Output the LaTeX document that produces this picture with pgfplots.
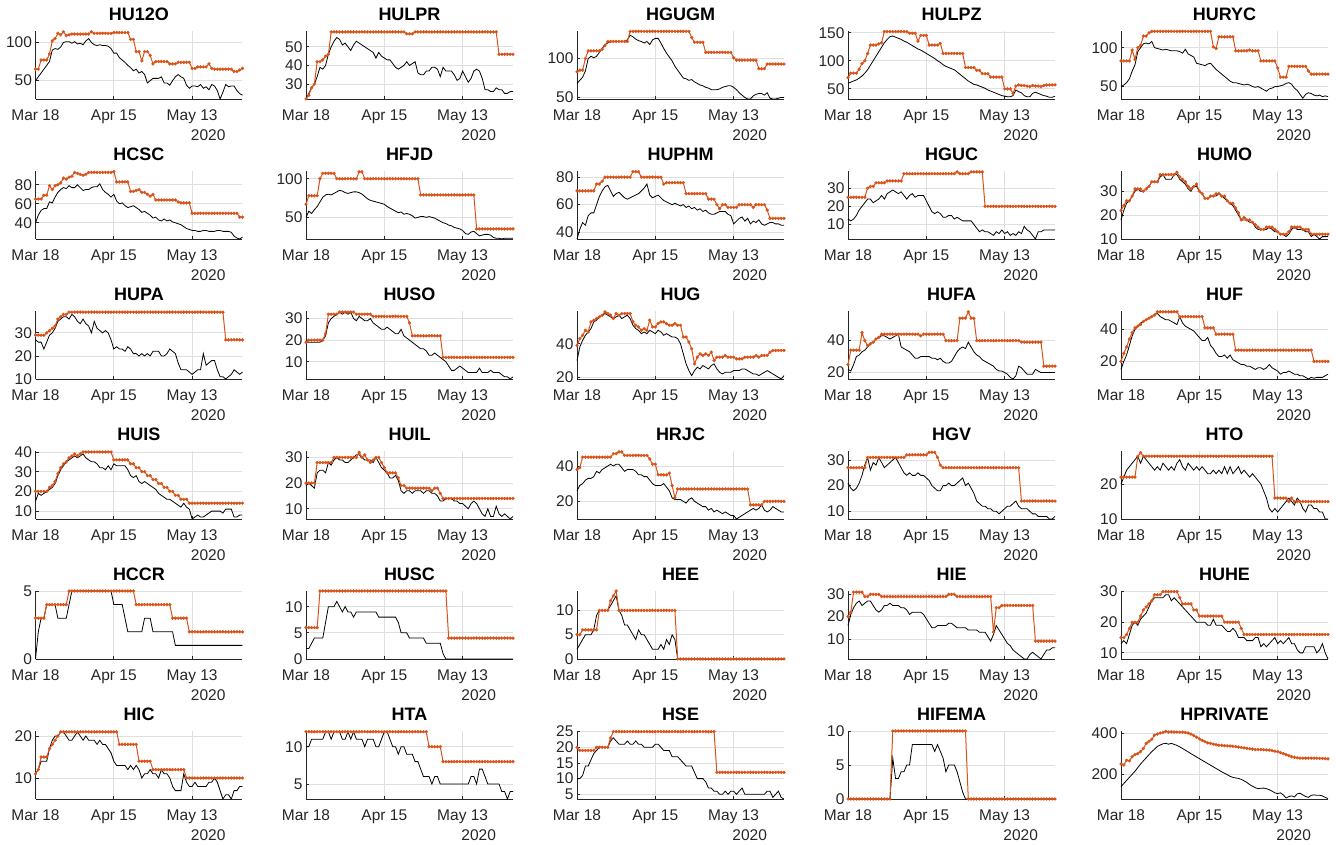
\documentclass[border=0pt]{standalone}
\usepackage{pgfplots}
\pgfplotsset{compat=1.18}
\usepackage{fontspec}
\setmainfont{Liberation Sans}
\definecolor{org}{RGB}{217,83,25}
\definecolor{axc}{RGB}{38,38,38}
\definecolor{grd}{RGB}{223,223,223}
\newcommand\tf{\fontsize{15.5}{18}\selectfont}
\pgfplotsset{
  P/.style={
    scale only axis, width=207pt, height=68pt,
    xmin=0, xmax=74,
    axis lines*=left,
    axis line style={axc, line width=0.9pt},
    tick align=inside, major tick length=3pt,
    every tick/.style={axc, line width=0.8pt},
    xtick={0,28,56}, xticklabels={Mar 18, Apr 15, May 13},
    grid=major, major grid style={grd, line width=0.8pt},
    tick label style={font=\tf, text=axc},
    /pgf/number format/assume math mode=true,
    xticklabel style={anchor=base, yshift=-21.5pt},
    title style={font=\fontsize{18}{21}\selectfont\bfseries, anchor=base, at={(0.5,1)}, yshift=4pt},
    clip=false,
    anchor=south west,
  }
}
\newcommand\panel[7]{%
\begin{axis}[P, at={(#1)}, title={#2}, ymin=#3, ymax=#4, ytick={#5}]
\addplot[black, line width=0.8pt] table[row sep=\\, header=false, x expr=\coordindex, y index=0] {#6};
\addplot[org, line width=1pt, mark=*, mark size=1.5pt, mark options={fill=org, draw=org, line width=0.3pt}] table[row sep=\\, header=false, x expr=\coordindex, y index=0] {#7};
\node[anchor=base west, font=\tf, text=axc, inner sep=0pt, yshift=-42pt] at (rel axis cs:0.75,0) {2020};
\end{axis}}
\begin{document}
\begin{tikzpicture}
\useasboundingbox (0,0) rectangle (1336pt,845pt);
% Row 1
\panel{35.5pt,746pt}{HU12O}{26}{115}{50,100}
{50\\55\\60\\65\\70\\75\\90\\92\\91\\94\\100\\101\\101\\99\\101\\98\\99\\97\\102\\105\\100\\97\\96\\97\\96\\96\\95\\92\\86\\86\\80\\77\\74\\70\\67\\63\\65\\60\\62\\58\\47\\50\\53\\53\\53\\55\\47\\47\\44\\50\\55\\58\\55\\53\\44\\40\\43\\43\\42\\45\\40\\42\\38\\45\\43\\37\\26\\35\\45\\42\\43\\43\\37\\33\\31\\}
{65\\65\\77\\77\\77\\85\\102\\105\\112\\110\\114\\109\\110\\111\\111\\111\\111\\111\\111\\111\\114\\112\\112\\112\\112\\112\\112\\112\\113\\113\\113\\113\\113\\113\\104\\104\\88\\88\\76\\88\\88\\83\\72\\75\\75\\75\\75\\75\\72\\72\\72\\74\\74\\74\\74\\74\\66\\66\\68\\68\\68\\68\\72\\66\\65\\65\\65\\65\\65\\65\\65\\62\\62\\64\\66\\}
\panel{306pt,746pt}{HULPR}{22}{58.5}{30,40,50}
{22\\25\\28\\30\\34\\39\\38\\40\\46\\50\\53\\55\\54\\51\\52\\50\\48\\51\\53\\52\\51\\50\\49\\48\\47\\44\\47\\45\\44\\43\\43\\41\\39\\38\\39\\40\\42\\40\\41\\42\\36\\35\\35\\37\\37\\39\\39\\38\\34\\39\\37\\37\\37\\35\\32\\33\\37\\34\\31\\33\\37\\38\\37\\33\\27\\27\\26\\26\\28\\27\\27\\25\\25\\26\\26\\}
{22\\24\\28\\30\\42\\42\\43\\45\\46\\58\\58\\58\\58\\58\\58\\58\\58\\58\\58\\58\\58\\58\\58\\58\\58\\58\\58\\58\\58\\58\\58\\58\\58\\58\\58\\58\\57\\57\\57\\58\\58\\58\\58\\58\\58\\58\\58\\58\\58\\58\\58\\58\\58\\58\\58\\58\\58\\58\\58\\58\\58\\58\\58\\58\\58\\58\\58\\58\\58\\46\\46\\46\\46\\46\\46\\}
\panel{577pt,746pt}{HGUGM}{48}{135.5}{50,100}
{68\\72\\76\\84\\100\\103\\101\\103\\108\\113\\118\\120\\122\\122\\122\\122\\122\\122\\124\\130\\128\\125\\123\\122\\120\\122\\118\\124\\126\\126\\120\\113\\107\\102\\97\\90\\85\\80\\75\\74\\72\\73\\70\\68\\66\\65\\63\\62\\60\\60\\60\\61\\63\\64\\65\\65\\63\\60\\56\\53\\50\\48\\48\\52\\54\\55\\55\\53\\56\\49\\48\\48\\49\\50\\50\\}
{83\\85\\85\\100\\110\\110\\110\\110\\110\\112\\117\\122\\122\\122\\122\\122\\122\\122\\122\\135\\135\\135\\135\\135\\135\\135\\135\\135\\135\\135\\135\\135\\135\\135\\135\\135\\135\\135\\135\\135\\135\\127\\121\\121\\121\\121\\108\\108\\108\\108\\108\\108\\108\\108\\108\\108\\101\\98\\98\\98\\98\\98\\98\\98\\98\\87\\87\\87\\93\\93\\93\\93\\93\\93\\93\\}
\panel{848pt,746pt}{HULPZ}{32}{153}{50,100,150}
{60\\62\\64\\66\\69\\73\\78\\84\\92\\100\\108\\116\\124\\132\\138\\143\\144\\142\\140\\138\\135\\133\\130\\127\\124\\121\\119\\116\\113\\110\\107\\104\\100\\97\\93\\90\\88\\86\\84\\80\\76\\72\\68\\64\\61\\58\\57\\55\\53\\51\\48\\46\\44\\42\\40\\38\\37\\36\\36\\38\\48\\45\\43\\38\\36\\36\\42\\44\\42\\40\\38\\37\\35\\35\\37\\}
{70\\78\\78\\78\\85\\95\\100\\113\\128\\128\\128\\130\\132\\152\\152\\152\\152\\152\\152\\152\\152\\152\\149\\149\\149\\135\\145\\145\\145\\128\\128\\128\\128\\131\\113\\113\\113\\113\\113\\113\\113\\113\\88\\88\\88\\88\\83\\83\\77\\77\\77\\71\\71\\71\\71\\71\\50\\50\\50\\42\\55\\57\\56\\56\\55\\54\\56\\55\\55\\54\\56\\57\\57\\57\\57\\}
\panel{1121pt,746pt}{HURYC}{34}{121.5}{50,100}
{50\\52\\55\\60\\70\\78\\95\\100\\105\\106\\105\\108\\100\\99\\98\\97\\98\\97\\96\\96\\96\\95\\93\\98\\92\\90\\88\\80\\79\\78\\77\\79\\80\\76\\72\\69\\66\\63\\60\\57\\55\\55\\54\\53\\52\\53\\52\\50\\49\\50\\48\\46\\44\\47\\48\\50\\50\\51\\52\\54\\55\\53\\48\\45\\40\\35\\40\\42\\41\\39\\38\\39\\37\\38\\37\\}
{83\\83\\83\\83\\97\\85\\100\\103\\115\\115\\119\\121\\121\\121\\121\\121\\121\\121\\121\\121\\121\\121\\121\\121\\121\\121\\121\\121\\121\\121\\121\\121\\121\\101\\99\\114\\114\\114\\114\\114\\114\\96\\96\\96\\96\\96\\97\\96\\96\\96\\83\\83\\83\\83\\83\\83\\74\\62\\62\\62\\76\\76\\76\\76\\76\\76\\76\\70\\66\\66\\66\\66\\66\\66\\66\\}
% Row 2
\panel{35.5pt,606pt}{HCSC}{23}{94.5}{40,60,80}
{40\\48\\53\\55\\55\\62\\61\\67\\72\\75\\77\\76\\79\\77\\77\\80\\77\\74\\75\\75\\77\\78\\78\\81\\75\\72\\70\\67\\70\\63\\60\\61\\58\\56\\57\\58\\56\\54\\51\\52\\50\\48\\45\\46\\43\\42\\44\\42\\43\\41\\40\\39\\38\\36\\34\\33\\32\\32\\31\\31\\32\\32\\31\\31\\31\\32\\32\\31\\31\\31\\30\\26\\24\\23\\25\\}
{65\\65\\65\\69\\69\\79\\75\\79\\80\\82\\87\\86\\88\\89\\93\\92\\91\\90\\91\\93\\93\\93\\93\\93\\93\\93\\93\\93\\94\\83\\83\\83\\83\\83\\73\\73\\74\\75\\72\\72\\70\\68\\70\\64\\64\\64\\64\\64\\64\\64\\64\\62\\61\\61\\61\\61\\50\\50\\50\\50\\50\\50\\50\\50\\50\\50\\50\\50\\50\\50\\50\\50\\50\\46\\46\\}
\panel{306pt,606pt}{HFJD}{22}{110}{50,100}
{50\\58\\55\\60\\64\\70\\76\\79\\80\\79\\81\\83\\85\\84\\82\\81\\82\\83\\83\\82\\80\\77\\74\\72\\71\\70\\69\\68\\67\\64\\62\\60\\58\\56\\57\\54\\55\\54\\52\\49\\50\\51\\51\\50\\51\\50\\49\\47\\45\\43\\42\\40\\39\\37\\36\\35\\33\\29\\28\\31\\32\\29\\26\\27\\28\\28\\27\\24\\23\\23\\22\\23\\23\\23\\23\\}
{67\\78\\78\\78\\78\\100\\107\\107\\107\\107\\107\\100\\100\\100\\100\\100\\100\\100\\100\\109\\109\\100\\100\\100\\100\\100\\100\\100\\100\\100\\100\\100\\100\\100\\100\\100\\100\\100\\100\\100\\100\\79\\79\\79\\79\\79\\79\\79\\79\\79\\79\\79\\79\\79\\79\\79\\79\\79\\79\\79\\79\\35\\35\\35\\35\\35\\35\\35\\35\\35\\35\\35\\35\\35\\35\\}
\panel{577pt,606pt}{HUPHM}{35}{84.5}{40,60,80}
{35\\42\\47\\45\\52\\54\\54\\60\\66\\70\\73\\74\\70\\66\\68\\69\\67\\65\\64\\65\\66\\67\\68\\70\\72\\75\\67\\65\\66\\67\\65\\63\\62\\61\\60\\61\\60\\59\\60\\58\\59\\57\\58\\56\\57\\55\\56\\54\\53\\53\\54\\55\\55\\55\\53\\52\\46\\48\\50\\51\\48\\50\\46\\48\\47\\49\\46\\45\\46\\47\\47\\46\\46\\45\\45\\}
{70\\70\\70\\70\\70\\70\\70\\75\\75\\77\\80\\80\\80\\80\\80\\80\\80\\80\\80\\80\\84\\84\\84\\80\\80\\80\\80\\80\\80\\80\\80\\75\\76\\76\\76\\76\\76\\76\\76\\68\\68\\68\\68\\68\\68\\68\\68\\64\\64\\64\\60\\57\\60\\60\\58\\58\\58\\58\\60\\60\\60\\60\\60\\58\\60\\60\\60\\60\\56\\50\\50\\50\\50\\50\\50\\}
\panel{848pt,606pt}{HGUC}{2}{39.5}{10,20,30}
{13\\12\\13\\15\\18\\20\\22\\24\\24\\22\\23\\24\\26\\24\\27\\28\\29\\28\\27\\28\\26\\24\\26\\27\\25\\26\\26\\26\\23\\20\\17\\16\\17\\16\\14\\14\\15\\15\\13\\14\\13\\12\\12\\12\\12\\10\\8\\6\\7\\6\\6\\5\\4\\6\\5\\7\\5\\6\\4\\5\\4\\6\\5\\9\\7\\6\\4\\2\\6\\6\\7\\7\\7\\7\\7\\}
{25\\25\\25\\25\\25\\25\\25\\30\\31\\31\\33\\33\\33\\33\\34\\34\\34\\34\\34\\34\\38\\38\\38\\38\\38\\38\\38\\38\\38\\38\\38\\38\\38\\38\\38\\38\\38\\38\\38\\39\\38\\38\\38\\38\\39\\39\\39\\39\\39\\20\\20\\20\\20\\20\\20\\20\\20\\20\\20\\20\\20\\20\\20\\20\\20\\20\\20\\20\\20\\20\\20\\20\\20\\20\\20\\}
\panel{1121pt,606pt}{HUMO}{10}{38.5}{10,20,30}
{18\\22\\25\\26\\28\\30\\31\\30\\30\\31\\32\\34\\34\\34\\36\\37\\35\\35\\35\\37\\37\\35\\34\\33\\31\\30\\32\\32\\30\\29\\27\\27\\28\\28\\28\\29\\28\\27\\26\\25\\24\\22\\20\\18\\18\\18\\17\\17\\15\\14\\14\\14\\14\\15\\14\\13\\13\\12\\12\\11\\12\\14\\15\\14\\14\\14\\13\\13\\11\\12\\11\\10\\11\\11\\11\\}
{22\\24\\26\\26\\28\\31\\31\\31\\30\\31\\32\\34\\34\\34\\37\\37\\37\\37\\37\\37\\38\\36\\35\\34\\32\\31\\32\\33\\30\\29\\27\\27\\28\\28\\29\\29\\28\\28\\26\\25\\25\\23\\21\\18\\19\\18\\18\\17\\16\\15\\14\\14\\15\\15\\15\\14\\13\\12\\12\\12\\13\\15\\15\\15\\15\\14\\14\\14\\12\\12\\12\\12\\12\\12\\12\\}
% Row 3
\panel{35.5pt,466pt}{HUPA}{10}{39.5}{10,20,30}
{27\\26\\26\\23\\26\\29\\30\\32\\35\\36\\37\\37\\36\\38\\37\\35\\34\\36\\34\\33\\30\\35\\32\\31\\30\\31\\30\\27\\23\\24\\23\\23\\22\\24\\23\\21\\21\\20\\21\\20\\21\\20\\22\\22\\22\\20\\20\\21\\23\\22\\21\\17\\14\\14\\14\\13\\12\\13\\14\\14\\21\\16\\17\\18\\18\\14\\11\\11\\10\\11\\12\\14\\13\\12\\13\\}
{29\\29\\29\\29\\30\\31\\32\\33\\36\\37\\38\\38\\39\\39\\39\\39\\39\\39\\39\\39\\39\\39\\39\\39\\39\\39\\39\\39\\39\\39\\39\\39\\39\\39\\39\\39\\39\\39\\39\\39\\39\\39\\39\\39\\39\\39\\39\\39\\39\\39\\39\\39\\39\\39\\39\\39\\39\\39\\39\\39\\39\\39\\39\\39\\39\\39\\39\\39\\27\\27\\27\\27\\27\\27\\27\\}
\panel{306pt,466pt}{HUSO}{2}{33.5}{10,20,30}
{19\\19\\19\\19\\19\\19\\20\\22\\28\\30\\31\\32\\33\\32\\33\\32\\33\\30\\29\\31\\30\\29\\29\\30\\28\\27\\26\\25\\25\\26\\25\\24\\23\\23\\25\\22\\21\\20\\19\\18\\17\\16\\16\\15\\13\\13\\14\\13\\12\\11\\10\\8\\6\\6\\7\\8\\7\\6\\5\\5\\5\\5\\7\\5\\5\\5\\6\\5\\5\\5\\4\\3\\3\\2\\3\\}
{19\\20\\20\\20\\20\\20\\20\\23\\32\\32\\32\\32\\33\\33\\33\\33\\33\\33\\32\\32\\32\\32\\32\\32\\31\\31\\31\\31\\31\\31\\31\\31\\31\\31\\31\\31\\31\\28\\22\\22\\22\\22\\22\\22\\22\\22\\22\\22\\22\\12\\12\\12\\12\\12\\12\\12\\12\\12\\12\\12\\12\\12\\12\\12\\12\\12\\12\\12\\12\\12\\12\\12\\12\\12\\12\\}
\panel{577pt,466pt}{HUG}{19}{59.5}{20,40}
{30\\38\\42\\45\\47\\49\\53\\54\\56\\57\\58\\57\\56\\55\\56\\57\\55\\56\\57\\55\\51\\49\\48\\46\\47\\46\\48\\47\\46\\48\\47\\45\\46\\45\\44\\44\\43\\40\\34\\28\\24\\21\\24\\26\\25\\27\\26\\25\\27\\28\\25\\23\\22\\23\\23\\23\\24\\24\\24\\25\\25\\24\\23\\22\\22\\21\\22\\23\\24\\23\\22\\21\\20\\19\\21\\}
{39\\43\\45\\48\\47\\53\\54\\55\\56\\57\\59\\58\\57\\55\\58\\57\\58\\58\\58\\58\\53\\51\\50\\48\\49\\48\\54\\50\\50\\52\\53\\53\\52\\51\\51\\52\\51\\51\\44\\44\\41\\37\\28\\32\\34\\33\\34\\33\\35\\30\\32\\32\\32\\33\\32\\32\\32\\31\\31\\31\\32\\32\\32\\32\\33\\32\\33\\33\\33\\35\\36\\36\\36\\36\\36\\}
\panel{848pt,466pt}{HUFA}{16}{58.5}{20,40}
{22\\21\\25\\30\\31\\33\\34\\36\\38\\39\\41\\42\\43\\43\\42\\41\\42\\43\\44\\36\\35\\34\\33\\31\\29\\29\\30\\30\\30\\30\\29\\29\\28\\29\\27\\26\\26\\27\\30\\33\\35\\36\\35\\39\\36\\33\\31\\30\\28\\27\\26\\25\\24\\22\\21\\21\\20\\19\\17\\16\\18\\24\\23\\21\\19\\19\\19\\22\\21\\20\\20\\20\\20\\20\\20\\}
{25\\34\\34\\34\\34\\45\\40\\37\\38\\39\\41\\42\\44\\44\\44\\44\\44\\44\\44\\44\\44\\44\\44\\44\\44\\44\\43\\44\\44\\44\\44\\44\\44\\44\\44\\40\\40\\40\\40\\40\\54\\54\\54\\58\\54\\54\\40\\40\\40\\40\\40\\40\\40\\40\\40\\40\\40\\40\\40\\40\\40\\40\\39\\39\\39\\39\\39\\39\\39\\39\\24\\24\\24\\24\\24\\}
\panel{1121pt,466pt}{HUF}{9}{51.5}{20,40}
{15\\20\\24\\30\\36\\40\\42\\44\\45\\46\\47\\48\\49\\50\\48\\47\\46\\46\\45\\44\\43\\48\\44\\42\\41\\40\\39\\37\\35\\33\\33\\35\\30\\28\\25\\23\\23\\24\\22\\24\\21\\20\\19\\18\\18\\17\\17\\16\\15\\16\\16\\15\\16\\18\\16\\15\\14\\12\\13\\13\\14\\13\\12\\12\\11\\11\\10\\9\\10\\9.5\\10\\10\\10\\11\\12\\}
{20\\25\\29\\34\\38\\41\\42\\43\\45\\46\\47\\48\\49\\51\\51\\51\\51\\51\\51\\51\\51\\48\\48\\48\\48\\48\\48\\48\\48\\48\\41\\41\\41\\41\\37\\37\\37\\37\\37\\37\\37\\27\\27\\27\\27\\27\\27\\27\\27\\27\\27\\27\\27\\27\\27\\27\\27\\27\\27\\27\\27\\27\\27\\27\\27\\27\\27\\27\\27\\20\\20\\20\\20\\20\\20\\}
% Row 4
\panel{35.5pt,326pt}{HUIS}{6}{40.5}{10,20,30,40}
{15\\19\\18\\19\\20\\21\\22\\24\\28\\31\\33\\35\\36\\37\\38\\37\\38\\39\\37\\36\\35\\35\\34\\32\\32\\31\\33\\31\\34\\33\\33\\33\\33\\31\\28\\27\\28\\25\\24\\25\\24\\23\\22\\21\\19\\18\\17\\16\\16\\15\\14\\13\\12\\14\\12\\11\\6\\7\\8\\7\\7\\8\\9\\10\\10\\10\\10\\9\\11\\11\\11\\7\\7\\8\\8\\}
{20\\20\\20\\20\\20\\22\\23\\25\\29\\32\\34\\35\\37\\38\\39\\38\\39\\40\\40\\40\\40\\40\\40\\40\\40\\40\\40\\40\\36\\36\\36\\36\\36\\36\\34\\34\\32\\32\\30\\30\\28\\28\\26\\26\\24\\24\\22\\22\\20\\20\\18\\18\\16\\16\\16\\14\\14\\14\\14\\14\\14\\14\\14\\14\\14\\14\\14\\14\\14\\14\\14\\14\\14\\14\\14\\}
\panel{306pt,326pt}{HUIL}{6}{32.5}{10,20,30}
{19\\20\\19\\18\\24\\25\\25\\24\\28\\27\\29\\30\\29\\29\\28\\28\\29\\30\\31\\31\\30\\29\\29\\29\\28\\30\\28\\26\\25\\24\\22\\22\\23\\21\\17\\16\\17\\17\\16\\17\\17\\17\\16\\17\\17\\16\\16\\15\\13\\13\\14\\14\\14\\13\\13\\12\\12\\11\\10\\12\\13\\12\\10\\8\\7\\10\\7\\7\\11\\8\\7\\8\\7\\6\\7\\}
{20\\20\\20\\20\\28\\28\\28\\28\\28\\28\\30\\30\\30\\30\\30\\30\\30\\30\\30\\32\\30\\31\\29\\28\\29\\30\\30\\28\\26\\24\\24\\24\\24\\22\\19\\19\\18\\18\\18\\18\\18\\18\\18\\18\\18\\17\\18\\18\\16\\14\\14\\14\\14\\14\\14\\14\\14\\14\\14\\14\\14\\14\\14\\14\\14\\14\\14\\14\\14\\14\\14\\14\\14\\14\\14\\}
\panel{577pt,326pt}{HRJC}{10}{48.5}{20,40}
{26\\29\\30\\32\\33\\33\\34\\37\\36\\38\\39\\40\\41\\40\\41\\41\\39\\37\\38\\38\\38\\37\\35\\35\\34\\34\\32\\30\\29\\29\\29\\30\\28\\26\\22\\21\\21\\21\\20\\19\\21\\22\\20\\19\\18\\17\\17\\15\\16\\14\\15\\14\\13\\14\\13\\12\\12\\10\\11\\12\\13\\14\\15\\16\\15\\16\\18\\15\\14\\15\\17\\16\\15\\14\\14\\}
{38\\39\\45\\45\\45\\45\\45\\45\\45\\45\\45\\45\\45\\47\\47\\48\\48\\46\\46\\46\\46\\46\\46\\46\\46\\46\\44\\41\\41\\35\\35\\35\\35\\36\\29\\22\\27\\27\\27\\27\\27\\27\\27\\27\\27\\27\\27\\27\\27\\27\\27\\27\\27\\27\\27\\27\\27\\27\\27\\27\\27\\27\\18\\18\\18\\18\\18\\20\\20\\20\\20\\20\\20\\20\\20\\}
\panel{848pt,326pt}{HGV}{7}{33.5}{10,20,30}
{21\\19\\18\\19\\21\\24\\28\\31\\26\\29\\28\\31\\29\\27\\28\\29\\30\\31\\29\\27\\25\\24\\25\\24\\24\\25\\24\\24\\23\\22\\20\\19\\18\\18\\20\\20\\21\\20\\20\\21\\22\\23\\20\\21\\19\\17\\14\\13\\12\\12\\11\\11\\10\\10\\9\\10\\11\\12\\12\\13\\14\\12\\11\\11\\11\\10\\9\\9\\8\\8\\8\\8\\7\\7\\8\\}
{27\\27\\27\\27\\27\\27\\27\\31\\31\\31\\31\\31\\31\\31\\31\\31\\31\\31\\31\\31\\31\\32\\32\\32\\32\\32\\32\\32\\32\\33\\33\\33\\31\\28\\27\\27\\27\\27\\27\\27\\27\\27\\27\\27\\27\\27\\27\\27\\27\\27\\27\\27\\27\\27\\27\\27\\27\\27\\27\\27\\27\\27\\14\\14\\14\\14\\14\\14\\14\\14\\14\\14\\14\\14\\14\\}
\panel{1121pt,326pt}{HTO}{10}{29.5}{10,20}
{20\\22\\24\\25\\26\\27\\28\\26\\28\\27\\26\\25\\24\\25\\24\\26\\25\\24\\25\\24\\26\\27\\25\\24\\26\\25\\24\\25\\24\\25\\24\\23\\23\\24\\23\\24\\23\\25\\23\\25\\23\\24\\25\\23\\24\\23\\22\\23\\22\\21\\20\\18\\16\\13\\12\\13\\12\\13\\14\\15\\16\\15\\14\\16\\15\\13\\12\\14\\14\\13\\13\\12\\12\\10\\10\\}
{22\\22\\22\\22\\22\\22\\28\\29\\28\\28\\28\\28\\28\\28\\28\\28\\28\\28\\28\\28\\28\\28\\28\\28\\28\\28\\28\\28\\28\\28\\28\\28\\28\\28\\28\\28\\28\\28\\28\\28\\28\\28\\28\\28\\28\\28\\28\\28\\28\\28\\28\\28\\28\\28\\28\\16\\16\\16\\16\\16\\15\\16\\15\\15\\15\\15\\15\\15\\15\\15\\15\\15\\15\\15\\15\\}
% Row 5
\panel{35.5pt,186pt}{HCCR}{0}{5}{0,5}
{0\\2\\3\\3\\4\\4\\4\\4\\3\\3\\3\\3\\4\\5\\5\\5\\5\\5\\5\\5\\5\\5\\5\\5\\5\\5\\5\\5\\4\\4\\4\\4\\3\\2\\2\\2\\2\\2\\2\\3\\3\\3\\2\\2\\2\\2\\2\\2\\2\\2\\1\\1\\1\\1\\1\\1\\1\\1\\1\\1\\1\\1\\1\\1\\1\\1\\1\\1\\1\\1\\1\\1\\1\\1\\1\\}
{3\\3\\3\\3\\4\\4\\4\\4\\4\\4\\4\\4\\5\\5\\5\\5\\5\\5\\5\\5\\5\\5\\5\\5\\5\\5\\5\\5\\5\\5\\5\\5\\5\\5\\5\\5\\4\\4\\4\\4\\4\\4\\4\\4\\4\\4\\4\\4\\4\\3\\3\\3\\3\\3\\3\\2\\2\\2\\2\\2\\2\\2\\2\\2\\2\\2\\2\\2\\2\\2\\2\\2\\2\\2\\2\\}
\panel{306pt,186pt}{HUSC}{0}{13}{0,5,10}
{2\\2\\3\\4\\4\\4\\4\\7\\10\\10\\10\\11\\10\\9\\10\\9\\9\\8\\9\\9\\9\\9\\9\\9\\9\\9\\8\\8\\8\\8\\8\\8\\8\\7\\5\\5\\5\\4\\4\\4\\4\\4\\4\\3\\3\\3\\3\\3\\3\\1\\0\\0\\0\\0\\0\\0\\0\\0\\0\\0\\0\\0\\0\\0\\0\\0\\0\\0\\0\\0\\0\\0\\0\\0\\0\\}
{6\\6\\6\\6\\6\\13\\13\\13\\13\\13\\13\\13\\13\\13\\13\\13\\13\\13\\13\\13\\13\\13\\13\\13\\13\\13\\13\\13\\13\\13\\13\\13\\13\\13\\13\\13\\13\\13\\13\\13\\13\\13\\13\\13\\13\\13\\13\\13\\13\\13\\13\\4\\4\\4\\4\\4\\4\\4\\4\\4\\4\\4\\4\\4\\4\\4\\4\\4\\4\\4\\4\\4\\4\\4\\4\\}
\panel{577pt,186pt}{HEE}{0}{14}{0,5,10}
{2\\3\\4\\5\\5\\5\\6\\9\\10\\10\\10\\10\\11\\12\\13\\10\\9\\7\\7\\6\\5\\4\\6\\5\\5\\4\\3\\2\\2\\2\\3\\2\\4\\3\\5\\4\\0\\0\\0\\0\\0\\0\\0\\0\\0\\0\\0\\0\\0\\0\\0\\0\\0\\0\\0\\0\\0\\0\\0\\0\\0\\0\\0\\0\\0\\0\\0\\0\\0\\0\\0\\0\\0\\0\\0\\}
{5\\5\\6\\6\\6\\6\\6\\6\\10\\10\\10\\10\\12\\13\\14\\10\\10\\10\\10\\10\\10\\10\\10\\10\\10\\10\\10\\10\\10\\10\\10\\10\\10\\10\\10\\10\\0\\0\\0\\0\\0\\0\\0\\0\\0\\0\\0\\0\\0\\0\\0\\0\\0\\0\\0\\0\\0\\0\\0\\0\\0\\0\\0\\0\\0\\0\\0\\0\\0\\0\\0\\0\\0\\0\\0\\}
\panel{848pt,186pt}{HIE}{1}{31.5}{10,20,30}
{16\\21\\24\\26\\27\\25\\26\\27\\27\\25\\23\\22\\23\\25\\25\\26\\25\\25\\25\\24\\24\\23\\21\\22\\22\\22\\22\\21\\19\\17\\15\\15\\16\\16\\16\\16\\17\\17\\16\\15\\15\\15\\15\\14\\14\\14\\14\\13\\13\\13\\11\\9\\12\\16\\14\\12\\10\\8\\7\\5\\4\\3\\2\\1\\1\\3\\4\\3\\2\\1\\3\\5\\5\\6\\6\\}
{20\\22\\31\\31\\31\\31\\29\\29\\30\\30\\30\\30\\29\\29\\29\\29\\29\\29\\29\\29\\29\\29\\29\\29\\29\\29\\29\\29\\29\\29\\29\\29\\29\\29\\29\\29\\30\\30\\30\\29\\29\\29\\29\\29\\29\\29\\29\\29\\29\\29\\29\\29\\13\\24\\24\\25\\25\\25\\25\\25\\25\\25\\25\\25\\25\\25\\25\\9\\9\\9\\9\\9\\9\\9\\9\\}
\panel{1121pt,186pt}{HUHE}{8}{30.2}{10,20,30}
{13\\14\\13\\16\\19\\20\\19\\21\\22\\23\\25\\27\\28\\28\\28\\28\\29\\29\\27\\28\\27\\26\\25\\24\\23\\22\\21\\20\\20\\20\\20\\19\\19\\21\\19\\19\\19\\18\\17\\17\\18\\17\\15\\15\\15\\14\\14\\14\\15\\15\\12\\13\\12\\13\\14\\15\\13\\14\\13\\14\\15\\13\\13\\11\\10\\10\\12\\12\\12\\12\\10\\11\\13\\10\\8\\}
{15\\15\\16\\18\\20\\20\\20\\22\\24\\25\\26\\27\\29\\29\\29\\30\\30\\30\\30\\30\\30\\28\\26\\26\\26\\26\\24\\24\\22\\22\\22\\22\\22\\22\\22\\22\\22\\20\\20\\20\\20\\20\\20\\18\\16\\16\\16\\16\\16\\16\\16\\16\\16\\16\\16\\16\\16\\16\\16\\16\\16\\16\\16\\16\\16\\16\\16\\16\\16\\16\\16\\16\\16\\16\\16\\}
% Row 6
\panel{35.5pt,46pt}{HIC}{5}{21.2}{10,20}
{11\\12\\14\\14\\14\\17\\19\\20\\20\\21\\21\\20\\19\\19\\20\\21\\20\\19\\20\\19\\19\\19\\18\\19\\18\\18\\17\\16\\14\\13\\13\\13\\13\\12\\13\\12\\13\\12\\10\\11\\11\\12\\11\\11\\10\\12\\11\\11\\10\\8\\7\\7\\7\\11\\9\\8\\8\\9\\8\\8\\8\\8\\9\\9\\10\\9\\7\\5\\6\\6\\5\\7\\7\\8\\8\\}
{11\\12\\15\\15\\15\\17\\18\\19\\20\\21\\21\\21\\21\\21\\21\\21\\21\\21\\21\\21\\21\\21\\21\\21\\21\\21\\21\\21\\21\\21\\18\\18\\18\\18\\18\\18\\18\\14\\14\\14\\14\\14\\12\\12\\12\\12\\12\\12\\12\\12\\12\\12\\12\\12\\10\\10\\10\\10\\10\\10\\10\\10\\10\\10\\10\\10\\10\\10\\10\\10\\10\\10\\10\\10\\10\\}
\panel{306pt,46pt}{HTA}{3}{12.1}{5,10}
{10\\10\\11\\11\\11\\11\\11\\12\\12\\11\\12\\12\\12\\11\\11\\12\\11\\12\\11\\11\\11\\10\\11\\11\\11\\10\\10\\11\\12\\12\\11\\10\\10\\9\\10\\10\\9\\9\\9\\8\\8\\7\\6\\6\\6\\5\\6\\6\\5\\5\\5\\5\\5\\5\\5\\5\\5\\5\\5\\6\\6\\5\\7\\7\\6\\5\\5\\5\\5\\5\\4\\4\\3\\4\\4\\}
{12\\12\\12\\12\\12\\12\\12\\12\\12\\12\\12\\12\\12\\12\\12\\12\\12\\12\\12\\12\\12\\12\\12\\12\\12\\12\\12\\12\\12\\12\\12\\12\\12\\12\\12\\12\\12\\12\\12\\12\\12\\12\\12\\12\\10\\10\\10\\10\\10\\8\\8\\8\\8\\8\\8\\8\\8\\8\\8\\8\\8\\8\\8\\8\\8\\8\\8\\8\\8\\8\\8\\8\\8\\8\\8\\}
\panel{577pt,46pt}{HSE}{3.5}{25.2}{5,10,15,20,25}
{10\\10\\11\\14\\14\\16\\18\\19\\20\\20\\20\\20\\22\\23\\22\\21\\21\\21\\22\\21\\21\\22\\21\\21\\20\\20\\20\\20\\21\\21\\20\\19\\19\\19\\17\\17\\17\\16\\15\\14\\14\\14\\12\\10\\10\\10\\9\\7\\7\\6\\6\\5\\5\\6\\5\\6\\6\\5\\6\\7\\5\\5\\5\\5\\5\\5\\5\\5\\6\\6\\4\\5\\6\\4\\3.5\\}
{20\\19\\19\\19\\19\\19\\19\\20\\20\\20\\20\\20\\23\\25\\25\\25\\25\\25\\25\\25\\25\\25\\25\\25\\25\\25\\25\\25\\25\\25\\25\\25\\25\\25\\25\\25\\25\\25\\25\\25\\25\\25\\25\\25\\25\\25\\25\\25\\25\\25\\12\\12\\12\\12\\12\\12\\12\\12\\12\\12\\12\\12\\12\\12\\12\\12\\12\\12\\12\\12\\12\\12\\12\\12\\12\\}
\panel{848pt,46pt}{HIFEMA}{0}{10}{0,5,10}
{0\\0\\0\\0\\0\\0\\0\\0\\0\\0\\0\\0\\0\\0\\0\\0\\6\\3\\3\\4\\4\\5\\5\\8\\8\\8\\8\\8\\8\\8\\8\\7\\8\\7\\6\\4\\5\\5\\5\\4\\2.5\\1\\0\\0\\0\\0\\0\\0\\0\\0\\0\\0\\0\\0\\0\\0\\0\\0\\0\\0\\0\\0\\0\\0\\0\\0\\0\\0\\0\\0\\0\\0\\0\\0\\0\\}
{0\\0\\0\\0\\0\\0\\0\\0\\0\\0\\0\\0\\0\\0\\0\\0\\10\\10\\10\\10\\10\\10\\10\\10\\10\\10\\10\\10\\10\\10\\10\\10\\10\\10\\10\\10\\10\\10\\10\\10\\10\\10\\10\\0\\0\\0\\0\\0\\0\\0\\0\\0\\0\\0\\0\\0\\0\\0\\0\\0\\0\\0\\0\\0\\0\\0\\0\\0\\0\\0\\0\\0\\0\\0\\0\\}
\panel{1121pt,46pt}{HPRIVATE}{80}{410}{200,400}
{140\\155\\170\\185\\200\\215\\232\\250\\265\\280\\295\\310\\322\\335\\342\\348\\350\\346\\350\\345\\340\\333\\325\\317\\309\\300\\292\\284\\276\\268\\260\\252\\244\\236\\228\\220\\212\\205\\198\\190\\185\\182\\180\\175\\168\\160\\150\\142\\135\\130\\132\\133\\130\\125\\118\\110\\106\\110\\100\\85\\92\\95\\90\\105\\108\\100\\92\\88\\98\\100\\98\\98\\95\\88\\82\\}
{250\\245\\268\\265\\285\\295\\300\\310\\325\\350\\360\\370\\390\\395\\400\\403\\408\\405\\406\\405\\405\\404\\404\\403\\400\\395\\388\\380\\372\\365\\358\\352\\350\\346\\343\\341\\340\\339\\338\\337\\336\\334\\332\\330\\328\\326\\324\\322\\320\\320\\320\\319\\318\\317\\315\\312\\310\\305\\300\\295\\290\\285\\282\\280\\278\\278\\278\\278\\278\\278\\278\\277\\277\\276\\275\\}
\end{tikzpicture}
\end{document}
